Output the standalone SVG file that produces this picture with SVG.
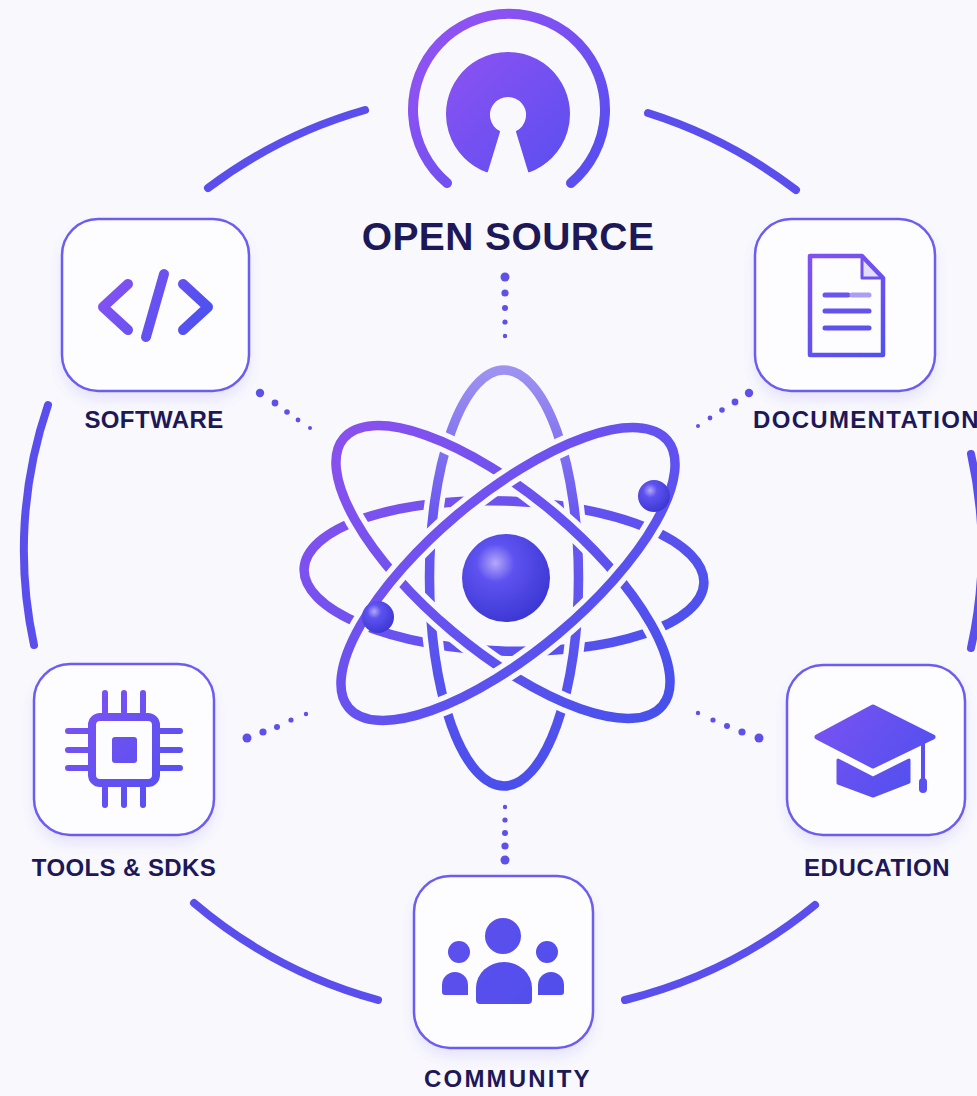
<svg xmlns="http://www.w3.org/2000/svg" width="977" height="1096" viewBox="0 0 977 1096">
  <defs>
    <linearGradient id="iconGrad" x1="0" y1="0" x2="1" y2="1">
      <stop offset="0" stop-color="#8a52f2"/>
      <stop offset="1" stop-color="#4a4ff0"/>
    </linearGradient>
    <linearGradient id="codeGrad" gradientUnits="userSpaceOnUse" x1="100" y1="273" x2="210" y2="338">
      <stop offset="0" stop-color="#8a52f2"/>
      <stop offset="1" stop-color="#4650f0"/>
    </linearGradient>
    <linearGradient id="docGrad" gradientUnits="userSpaceOnUse" x1="808" y1="254" x2="884" y2="357">
      <stop offset="0" stop-color="#8450f2"/>
      <stop offset="1" stop-color="#5050ef"/>
    </linearGradient>
    <linearGradient id="chipGrad" gradientUnits="userSpaceOnUse" x1="68" y1="693" x2="180" y2="805">
      <stop offset="0" stop-color="#8052f2"/>
      <stop offset="1" stop-color="#5050ef"/>
    </linearGradient>
    <linearGradient id="capGrad" gradientUnits="userSpaceOnUse" x1="815" y1="705" x2="935" y2="797">
      <stop offset="0" stop-color="#7c52f2"/>
      <stop offset="1" stop-color="#4a50ee"/>
    </linearGradient>
    <linearGradient id="peopleGrad" gradientUnits="userSpaceOnUse" x1="442" y1="918" x2="564" y2="1004">
      <stop offset="0" stop-color="#5f50ee"/>
      <stop offset="1" stop-color="#4f4eec"/>
    </linearGradient>
    <linearGradient id="keyGrad" gradientUnits="userSpaceOnUse" x1="450" y1="55" x2="570" y2="175">
      <stop offset="0" stop-color="#8c52f2"/>
      <stop offset="1" stop-color="#5a4ef0"/>
    </linearGradient>
    <linearGradient id="orbitGrad" gradientUnits="userSpaceOnUse" x1="310" y1="380" x2="700" y2="780">
      <stop offset="0" stop-color="#9350ee"/>
      <stop offset="0.5" stop-color="#6452f0"/>
      <stop offset="1" stop-color="#3d50ea"/>
    </linearGradient>
    <linearGradient id="orbitV" gradientUnits="userSpaceOnUse" x1="504" y1="365" x2="504" y2="790">
      <stop offset="0" stop-color="#a094f0"/>
      <stop offset="0.35" stop-color="#6a58f0"/>
      <stop offset="1" stop-color="#4a4fec"/>
    </linearGradient>
    <linearGradient id="orbitA" href="#orbitGrad" gradientTransform="rotate(-40 503 572)"/>
    <linearGradient id="orbitB" href="#orbitGrad" gradientTransform="rotate(40 508 574)"/>
    <radialGradient id="sphere" cx="0.38" cy="0.33" r="0.72">
      <stop offset="0" stop-color="#b4a8fa"/>
      <stop offset="0.3" stop-color="#5e52f0"/>
      <stop offset="1" stop-color="#3a36d2"/>
    </radialGradient>
    <filter id="shadow" x="-20%" y="-20%" width="140%" height="150%">
      <feDropShadow dx="0" dy="8" stdDeviation="7" flood-color="#6b5cf2" flood-opacity="0.13"/>
    </filter>
  </defs>
  <style>
    .ring { fill: none; stroke: #5a4fec; stroke-width: 8; stroke-linecap: round; }
    .box { fill: #fdfdff; stroke: #6c5df2; stroke-width: 2.5; }
    .label { font-family: "Liberation Sans", Arial, sans-serif; font-weight: 700; font-size: 24px; fill: #1d1858; text-anchor: middle; letter-spacing: 0.4px; }
    .dot { fill: #5d51ea; }
    .orbit { fill: none; stroke-width: 9.5; }
    .halo { fill: none; stroke: #f9f9fd; stroke-width: 20; }
  </style>

  <rect width="977" height="1096" fill="#f9f9fd"/>

  <!-- outer ring segments between the nodes -->
  <g id="connectors">
    <path class="ring" d="M 208 188 A 475 461 0 0 1 365 110"/>
    <path class="ring" d="M 648 113 A 475 461 0 0 1 796 190"/>
    <path class="ring" d="M 971 454 A 475 461 0 0 1 971 648"/>
    <path class="ring" d="M 815 905 A 475 461 0 0 1 625 1000"/>
    <path class="ring" d="M 378 1000 A 475 461 0 0 1 194 903"/>
    <path class="ring" d="M 34 645 A 475 461 0 0 1 48 405"/>

    <!-- dotted links to the atom -->
    <g id="dots-open-source">
      <circle class="dot" cx="505" cy="277" r="4.5"/>
      <circle class="dot" cx="505" cy="293" r="3.6"/>
      <circle class="dot" cx="505" cy="308" r="3"/>
      <circle class="dot" cx="505" cy="322" r="2.6"/>
      <circle class="dot" cx="505" cy="336" r="2.2"/>
    </g>
    <g id="dots-software">
      <circle class="dot" cx="260" cy="393" r="4.2"/>
      <circle class="dot" cx="275" cy="403" r="3.4"/>
      <circle class="dot" cx="287" cy="412" r="2.8"/>
      <circle class="dot" cx="298" cy="420" r="2.4"/>
      <circle class="dot" cx="310" cy="428" r="2"/>
    </g>
    <g id="dots-documentation">
      <circle class="dot" cx="749" cy="393" r="4.2"/>
      <circle class="dot" cx="735" cy="402" r="3.4"/>
      <circle class="dot" cx="722" cy="410" r="2.8"/>
      <circle class="dot" cx="710" cy="418" r="2.4"/>
      <circle class="dot" cx="698" cy="426" r="2"/>
    </g>
    <g id="dots-tools">
      <circle class="dot" cx="247" cy="738" r="4.5"/>
      <circle class="dot" cx="263" cy="732" r="3.6"/>
      <circle class="dot" cx="277" cy="727" r="3"/>
      <circle class="dot" cx="291" cy="720" r="2.6"/>
      <circle class="dot" cx="306" cy="714" r="2.2"/>
    </g>
    <g id="dots-education">
      <circle class="dot" cx="759" cy="738" r="4.5"/>
      <circle class="dot" cx="742" cy="732" r="3.6"/>
      <circle class="dot" cx="727" cy="726" r="3"/>
      <circle class="dot" cx="713" cy="720" r="2.6"/>
      <circle class="dot" cx="698" cy="713" r="2.2"/>
    </g>
    <g id="dots-community">
      <circle class="dot" cx="505" cy="807" r="2.2"/>
      <circle class="dot" cx="505" cy="820" r="2.6"/>
      <circle class="dot" cx="505" cy="833" r="3"/>
      <circle class="dot" cx="505" cy="846" r="3.6"/>
      <circle class="dot" cx="505" cy="860" r="4.5"/>
    </g>
  </g>

  <!-- central atom -->
  <g id="atom">
    <ellipse class="halo" cx="504" cy="576" rx="200" ry="75" transform="rotate(2 504 576)"/>
    <ellipse class="orbit" stroke="url(#orbitGrad)" cx="504" cy="576" rx="200" ry="75" transform="rotate(2 504 576)"/>
    <ellipse class="halo" cx="504" cy="578" rx="74.5" ry="208"/>
    <ellipse class="orbit" stroke="url(#orbitV)" cx="504" cy="578" rx="74.5" ry="208"/>
    <ellipse class="halo" cx="503" cy="572" rx="208" ry="78" transform="rotate(40 503 572)"/>
    <ellipse class="orbit" stroke="url(#orbitA)" cx="503" cy="572" rx="208" ry="78" transform="rotate(40 503 572)"/>
    <ellipse class="halo" cx="508" cy="574" rx="208" ry="78" transform="rotate(-40 508 574)"/>
    <ellipse class="orbit" stroke="url(#orbitB)" cx="508" cy="574" rx="208" ry="78" transform="rotate(-40 508 574)"/>
    <circle cx="506" cy="578" r="44" fill="url(#sphere)"/>
    <circle cx="654" cy="496" r="16" fill="url(#sphere)"/>
    <circle cx="378" cy="617" r="16" fill="url(#sphere)"/>
  </g>

  <!-- open source emblem -->
  <g id="open-source">
    <path d="M 447 183 A 96 96 0 1 1 571 183" fill="none" stroke="url(#keyGrad)" stroke-width="10" stroke-linecap="round"/>
    <path d="M 487 171.3 A 61 61 0 1 1 529 171.3 L 517 131.7 A 19 19 0 1 0 499 131.7 Z" fill="url(#keyGrad)" stroke="url(#keyGrad)" stroke-width="2" stroke-linejoin="round"/>
    <text class="label" x="508" y="250" style="font-size:39px">OPEN SOURCE</text>
  </g>

  <!-- software -->
  <g id="software">
    <rect class="box" x="62" y="219" width="187" height="172" rx="36" filter="url(#shadow)"/>
    <g fill="none" stroke="url(#codeGrad)" stroke-width="10" stroke-linecap="round" stroke-linejoin="round">
      <path d="M 128 284 L 103 307 L 128 330"/>
      <path d="M 164 274 L 146 337"/>
      <path d="M 183 284 L 208 307 L 183 330"/>
    </g>
    <text class="label" x="154" y="428">SOFTWARE</text>
  </g>

  <!-- documentation -->
  <g id="documentation">
    <rect class="box" x="755" y="219" width="180" height="172" rx="36" filter="url(#shadow)"/>
    <path d="M 862 256 L 862 278 L 883 278 Z" fill="#e2defb" stroke="url(#docGrad)" stroke-width="3" stroke-linejoin="round"/>
    <path d="M 810 256 L 862 256 L 883 278 L 883 355 L 810 355 Z" fill="none" stroke="url(#docGrad)" stroke-width="4.5" stroke-linejoin="round"/>
    <g stroke-width="5" stroke-linecap="round">
      <line x1="825" y1="295" x2="848" y2="295" stroke="#6b55f0"/>
      <line x1="852" y1="295" x2="869" y2="295" stroke="#a99ff5"/>
      <line x1="825" y1="311" x2="869" y2="311" stroke="#6352f0"/>
      <line x1="825" y1="328" x2="869" y2="328" stroke="#5c52ef"/>
    </g>
    <text class="label" x="866" y="428" textLength="226" lengthAdjust="spacing">DOCUMENTATION</text>
  </g>

  <!-- tools & sdks -->
  <g id="tools-sdks">
    <rect class="box" x="34" y="664" width="180" height="171" rx="36" filter="url(#shadow)"/>
    <g stroke="url(#chipGrad)" stroke-width="6" stroke-linecap="round" fill="none">
      <path d="M 105 693 V 712 M 124 693 V 712 M 143 693 V 712"/>
      <path d="M 105 788 V 805 M 124 788 V 805 M 143 788 V 805"/>
      <path d="M 68 731 H 88 M 68 750 H 88 M 68 768 H 88"/>
      <path d="M 160 731 H 180 M 160 750 H 180 M 160 768 H 180"/>
      <rect x="92" y="717" width="64" height="66" rx="8" stroke-width="8"/>
    </g>
    <rect x="112" y="737" width="25" height="26" rx="3" fill="url(#chipGrad)"/>
    <text class="label" x="124" y="876">TOOLS &amp; SDKS</text>
  </g>

  <!-- education -->
  <g id="education">
    <rect class="box" x="787" y="665" width="178" height="170" rx="36" filter="url(#shadow)"/>
    <path d="M 817 737 L 873 707 L 933 737 L 873 766 Z" fill="url(#capGrad)" stroke="url(#capGrad)" stroke-width="5" stroke-linejoin="round"/>
    <path d="M 838 760 L 873 778 L 909 760 L 909 782 L 873 796 L 838 783 Z" fill="url(#capGrad)" stroke="url(#capGrad)" stroke-width="3" stroke-linejoin="round"/>
    <line x1="923" y1="742" x2="923" y2="782" stroke="#5a50ee" stroke-width="4" stroke-linecap="round"/>
    <rect x="919" y="778" width="8" height="15" rx="4" fill="#5a50ee"/>
    <text class="label" x="877" y="876" textLength="146" lengthAdjust="spacing">EDUCATION</text>
  </g>

  <!-- community -->
  <g id="community">
    <rect class="box" x="414" y="876" width="179" height="172" rx="36" filter="url(#shadow)"/>
    <g fill="url(#peopleGrad)">
      <circle cx="503" cy="936" r="18"/>
      <circle cx="459" cy="952" r="11"/>
      <circle cx="547" cy="952" r="11"/>
      <path d="M 480 1004 Q 476 1004 476 1000 L 476 988 A 28 26 0 0 1 532 988 L 532 1000 Q 532 1004 528 1004 Z"/>
      <path d="M 445 995 Q 442 995 442 992 L 442 985 A 13 13 0 0 1 468 985 L 468 995 Z"/>
      <path d="M 538 995 L 538 985 A 13 13 0 0 1 564 985 L 564 992 Q 564 995 561 995 Z"/>
    </g>
    <text class="label" x="507" y="1087" textLength="166" lengthAdjust="spacing">COMMUNITY</text>
  </g>
</svg>
